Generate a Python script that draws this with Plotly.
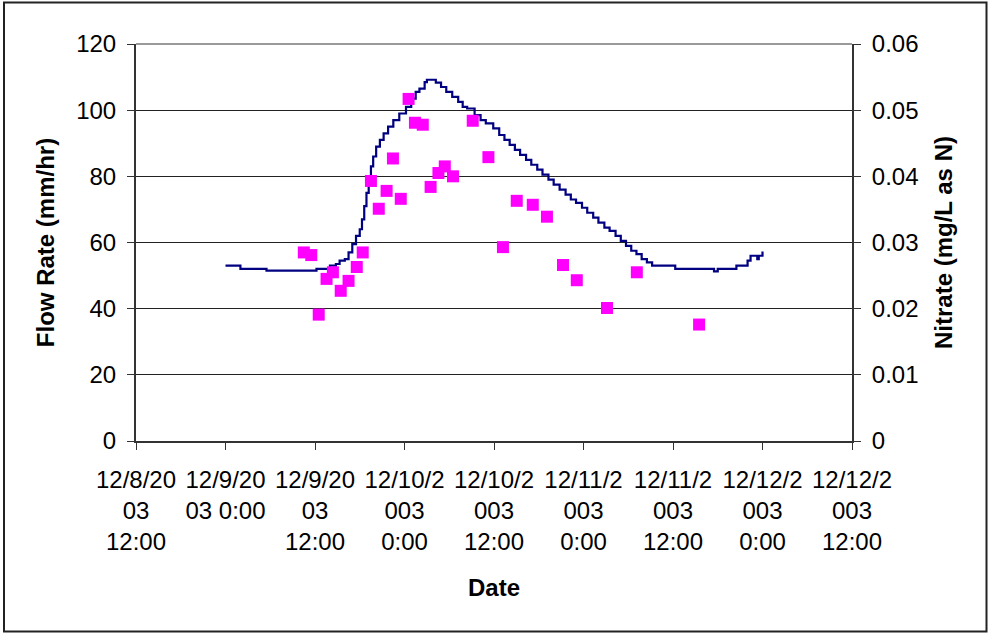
import pandas as pd
import plotly.graph_objects as go

# ---- data -------------------------------------------------------------
start = pd.Timestamp("2003-12-09 00:00")

# flow record: hours after 12/9/2003 0:00 and flow rate (mm/hr), stepped
flow_hours = [0, 2.0, 5.5, 12.2, 14.0, 14.8, 15.3, 16.0, 16.5, 17.0, 17.5,
              18.0, 18.3, 18.6, 18.9, 19.2, 19.5, 19.8, 20.2, 20.7, 21.2,
              21.8, 22.5, 23.3, 24.2, 24.9, 25.5, 26.0, 26.7, 27.0, 28.2,
              28.9, 29.6, 30.4, 31.2, 31.8, 32.4, 33.4, 34.2, 34.9, 35.9,
              36.7, 37.4, 38.1, 38.8, 39.5, 40.3, 41.0, 41.8, 42.5, 43.3,
              44.0, 44.8, 45.6, 46.3, 47.0, 47.8, 48.5, 49.3, 50.0, 50.8,
              51.5, 52.3, 53.0, 53.7, 54.4, 55.1, 55.8, 56.5, 57.2, 60.3,
              65.5, 66.0, 68.5, 70.0, 70.4, 71.3, 71.5, 72.0]
flow_rate = [53, 52, 51.5, 52, 53, 53.5, 54.5, 55, 57, 59.5, 62,
             64, 67, 71, 75, 79, 83, 86, 89, 91, 93,
             95, 97, 99, 101, 103.5, 105.5, 106.5, 108.5, 109.2, 108.3,
             107, 105.5, 104, 102.5, 101, 100.5, 98.5, 97, 96, 94.5,
             92.5, 91, 89.5, 88, 86.5, 85, 83.5, 82, 80.5, 79,
             77.5, 76, 74.5, 73, 72, 70.5, 69, 67.5, 66, 64.5,
             63.5, 62, 60.5, 59, 57.5, 56.5, 55, 54, 53, 52,
             51.3, 52, 53, 54.5, 56, 55, 56, 57.3]

# nitrate samples: hours after 12/9/2003 0:00 and concentration (mg/L as N)
nitrate_hours = [10.5, 11.5, 12.5, 13.55, 14.4, 15.45, 16.5, 17.6, 18.4,
                 19.5, 20.55, 21.6, 22.45, 23.5, 24.55, 25.4, 26.45, 27.5,
                 28.55, 29.4, 30.5, 33.15, 35.25, 37.2, 39.05, 41.2, 43.1,
                 45.25, 47.1, 51.15, 55.15, 63.5]
nitrate = [0.0285, 0.0281, 0.0191, 0.0245, 0.0255, 0.0227, 0.0242, 0.0263,
           0.0285, 0.0393, 0.0351, 0.0378, 0.0427, 0.0366, 0.0517, 0.0481,
           0.0478, 0.0384, 0.0405, 0.0415, 0.0400, 0.0484, 0.0429, 0.0293,
           0.0363, 0.0357, 0.0339, 0.0266, 0.0243, 0.0201, 0.0255, 0.0176]

# date axis ticks every 12 hours
tick_dates = ["2003-12-08 12:00", "2003-12-09 00:00", "2003-12-09 12:00",
              "2003-12-10 00:00", "2003-12-10 12:00", "2003-12-11 00:00",
              "2003-12-11 12:00", "2003-12-12 00:00", "2003-12-12 12:00"]
tick_labels = ["12/8/20<br>03<br>12:00", "12/9/20<br>03 0:00",
               "12/9/20<br>03<br>12:00", "12/10/2<br>003<br>0:00",
               "12/10/2<br>003<br>12:00", "12/11/2<br>003<br>0:00",
               "12/11/2<br>003<br>12:00", "12/12/2<br>003<br>0:00",
               "12/12/2<br>003<br>12:00"]

flow_time = [start + pd.Timedelta(hours=h) for h in flow_hours]
nitrate_time = [start + pd.Timedelta(hours=h) for h in nitrate_hours]

# ---- layout geometry (pixels) ------------------------------------------
W, H = 988, 633
ML, MR, MT, MB = 136, 136, 44, 192
PW, PH = W - ML - MR, H - MT - MB

FONT = "Arial, 'Liberation Sans', sans-serif"
FS = 24

fig = go.Figure()

fig.add_trace(go.Scatter(
    x=flow_time, y=flow_rate, mode="lines", line_shape="hv",
    line=dict(color="#000080", width=2.2), yaxis="y", showlegend=False,
    name="Flow Rate"))

fig.add_trace(go.Scatter(
    x=nitrate_time, y=nitrate, mode="markers", yaxis="y2",
    marker=dict(symbol="square", size=12, color="#FF00FF",
                line=dict(width=0)),
    showlegend=False, name="Nitrate"))

# chart frame around the whole figure, in paper units
fx0, fy0, fx1, fy1 = 4, 2.5, 986.5, 631.5
frame = dict(type="rect", xref="paper", yref="paper", layer="above",
             x0=(fx0 - ML) / PW, x1=(fx1 - ML) / PW,
             y0=(H - MB - fy1) / PH, y1=(H - MB - fy0) / PH,
             line=dict(color="#222222", width=2), fillcolor="rgba(0,0,0,0)")
top_border = dict(type="line", xref="paper", yref="paper", layer="above",
                  x0=0, x1=1, y0=1, y1=1,
                  line=dict(color="#9a9a9a", width=2))

fig.update_layout(
    width=W, height=H,
    margin=dict(l=ML, r=MR, t=MT, b=MB, pad=0),
    paper_bgcolor="white", plot_bgcolor="white",
    font=dict(family=FONT, size=FS, color="black"),
    shapes=[frame, top_border],
    xaxis=dict(
        type="date",
        range=[tick_dates[0], tick_dates[-1]],
        tickmode="array", tickvals=tick_dates, ticktext=tick_labels,
        ticks="outside", ticklen=7, tickwidth=1, tickcolor="#333",
        showline=True, linecolor="#333", linewidth=1.5,
        showgrid=False, zeroline=False,
        tickfont=dict(size=FS), ticklabelstandoff=9,
        title=dict(text="<b>Date</b>", font=dict(size=FS), standoff=25),
    ),
    yaxis=dict(
        range=[0, 120], tickmode="linear", tick0=0, dtick=20,
        ticks="outside", ticklen=7, tickwidth=1, tickcolor="#333",
        showline=True, linecolor="#333", linewidth=2,
        showgrid=True, gridcolor="#222", gridwidth=1, zeroline=False,
        tickfont=dict(size=FS), ticklabelstandoff=6,
        title=dict(text="<b>Flow Rate (mm/hr)</b>", font=dict(size=FS),
                   standoff=15),
    ),
    yaxis2=dict(
        range=[0, 0.06], tickmode="linear", tick0=0, dtick=0.01,
        overlaying="y", side="right",
        ticks="outside", ticklen=7, tickwidth=1, tickcolor="#333",
        showline=True, linecolor="#333", linewidth=2,
        showgrid=False, zeroline=False,
        tickfont=dict(size=FS), ticklabelstandoff=6,
        title=dict(text="<b>Nitrate (mg/L as N)</b>", font=dict(size=FS),
                   standoff=18),
    ),
)

fig.write_html("out.html")
